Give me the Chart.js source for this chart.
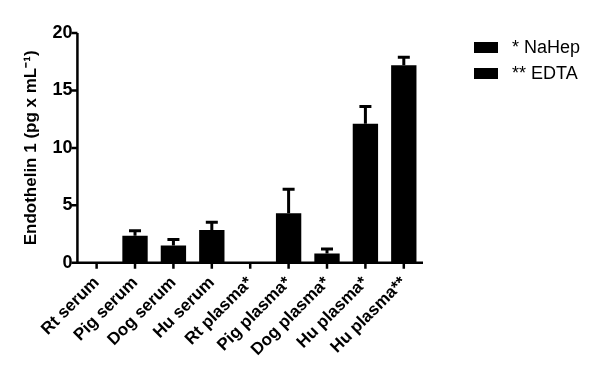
<!DOCTYPE html>
<html>
<head>
<meta charset="utf-8">
<script src="https://cdn.jsdelivr.net/npm/chart.js@4"></script>
<style>
  html, body { margin: 0; padding: 0; background: #fff; }
  #wrap { width: 600px; height: 376px; }
</style>
</head>
<body>
<div id="wrap"><canvas id="endoChart" width="600" height="376"></canvas></div>
<script>
// Kategorie próbek
const sampleLabels = ['Rt serum', 'Pig serum', 'Dog serum', 'Hu serum', 'Rt plasma*', 'Pig plasma*', 'Dog plasma*', 'Hu plasma*', 'Hu plasma**'];
// Średnie wartości endoteliny 1
const meanValues = [0, 2.35, 1.5, 2.85, 0, 4.3, 0.8, 12.1, 17.2];
// Górne granice słupków błędu (średnia + SD)
const errorTops = [0, 2.78, 2.03, 3.52, 0, 6.4, 1.2, 13.6, 17.9];
// Opisy legendy
const legendLabels = ['* NaHep', '** EDTA'];
// Podziałka osi Y
const yTicks = [0, 5, 10, 15, 20];

const FONT = '"Liberation Sans", Arial, sans-serif';

// Słupki błędu (tylko w górę)
const errorBarPlugin = {
    id: 'errorBars',
    afterDatasetsDraw(chart) {
        const ctx = chart.ctx;
        const x = chart.scales.x;
        const y = chart.scales.y;
        ctx.save();
        ctx.strokeStyle = '#000';
        ctx.lineWidth = 3;
        errorTops.forEach((top, i) => {
            if (top <= meanValues[i]) return;
            const px = x.getPixelForValue(i);
            const py0 = y.getPixelForValue(meanValues[i]);
            const py1 = y.getPixelForValue(top);
            ctx.beginPath();
            ctx.moveTo(px, py0);
            ctx.lineTo(px, py1);
            ctx.moveTo(px - 6, py1);
            ctx.lineTo(px + 6, py1);
            ctx.stroke();
        });
        ctx.restore();
    }
};

// Legenda rysowana obok wykresu
const sideLegendPlugin = {
    id: 'sideLegend',
    afterDraw(chart) {
        const ctx = chart.ctx;
        ctx.save();
        ctx.font = '18px ' + FONT;
        ctx.textBaseline = 'middle';
        ctx.fillStyle = '#000';
        legendLabels.forEach((txt, i) => {
            const top = 42 + i * 26;
            ctx.fillRect(474, top, 24, 11);
            ctx.fillText(txt, 512, top + 6);
        });
        ctx.restore();
    }
};

// Oś Y z podziałką na zewnątrz i osią X z kreskami
const axisPlugin = {
    id: 'axisLines',
    afterDatasetsDraw(chart) {
        const ctx = chart.ctx;
        const a = chart.chartArea;
        const x = chart.scales.x;
        const y = chart.scales.y;
        ctx.save();
        ctx.strokeStyle = '#000';
        ctx.lineWidth = 2.5;
        ctx.beginPath();
        ctx.moveTo(a.left, a.top);
        ctx.lineTo(a.left, a.bottom);
        ctx.lineTo(a.right, a.bottom);
        yTicks.forEach(v => {
            const py = y.getPixelForValue(v);
            ctx.moveTo(a.left - 6, py);
            ctx.lineTo(a.left, py);
        });
        sampleLabels.forEach((_, i) => {
            const px = x.getPixelForValue(i);
            ctx.moveTo(px, a.bottom);
            ctx.lineTo(px, a.bottom + 6);
        });
        ctx.stroke();
        ctx.restore();
    }
};

const ctxEndo = document.getElementById('endoChart').getContext('2d');
const endoChart = new Chart(ctxEndo, {
    type: 'bar',
    data: {
        labels: sampleLabels,
        datasets: [{
            data: meanValues,
            backgroundColor: '#000',
            borderWidth: 0,
            categoryPercentage: 1,
            barPercentage: 0.66
        }]
    },
    options: {
        responsive: false,
        animation: false,
        layout: { padding: { top: 33, left: 21, right: 177, bottom: 6 } },
        plugins: {
            legend: { display: false },
            tooltip: { enabled: false }
        },
        scales: {
            x: {
                grid: { display: false, drawTicks: false },
                border: { display: false },
                ticks: {
                    color: '#000',
                    font: { family: FONT, size: 17, weight: 'bold' },
                    minRotation: 45,
                    maxRotation: 45,
                    padding: 10
                }
            },
            y: {
                min: 0,
                max: 20,
                grid: { display: false, drawTicks: false },
                border: { display: false },
                afterBuildTicks(scale) {
                    scale.ticks = yTicks.map(v => ({ value: v }));
                },
                ticks: {
                    color: '#000',
                    font: { family: FONT, size: 18, weight: 'bold' },
                    padding: 5
                },
                title: {
                    display: true,
                    text: 'Endothelin 1 (pg x mL⁻¹)',
                    color: '#000',
                    font: { family: FONT, size: 17, weight: 'bold' },
                    padding: { top: 0, bottom: 6 }
                }
            }
        }
    },
    plugins: [errorBarPlugin, axisPlugin, sideLegendPlugin]
});
</script>
</body>
</html>
